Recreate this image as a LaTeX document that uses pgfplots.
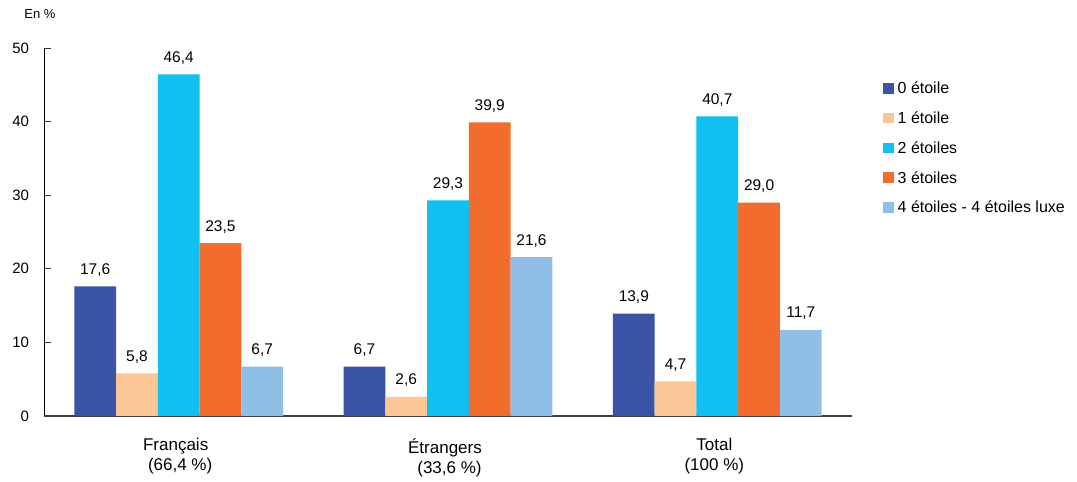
\documentclass[border=0pt]{standalone}
\usepackage{pgfplots}
\pgfplotsset{compat=1.18}
\usepackage{fontspec}
\setmainfont{Liberation Sans}
\definecolor{cA}{HTML}{3A53A4}
\definecolor{cB}{HTML}{FCC595}
\definecolor{cC}{HTML}{10C0F0}
\definecolor{cD}{HTML}{F26C2D}
\definecolor{cE}{HTML}{8FBFE6}
\begin{document}
\begin{tikzpicture}[x=1pt,y=1pt]
\path[use as bounding box] (0,0) rectangle (1077,482);
\begin{axis}[
  at={(44pt,66pt)}, anchor=south west,
  scale only axis, width=808pt, height=368pt,
  xmin=-0.5, xmax=2.5, ymin=0, ymax=50,
  axis x line=bottom, axis y line=left,
  axis line style={-},
  x axis line style={draw=black!75, line width=1.6pt},
  y axis line style={draw=black, line width=0.6pt},
  xtick={0,1,2}, xtick style={draw=none},
  xticklabels={{Français\\\hspace{9pt}(66,4~\%)},{Étrangers\\\hspace{9pt}(33,6~\%)},{Total\\(100~\%)}},
  xticklabel style={align=center, font=\fontsize{17}{20}\selectfont, yshift=-12pt, xshift=-3pt},
  ytick={0,10,20,30,40,50},
  tick align=inside, major tick length=7pt,
  ytick style={draw=black!80, line width=0.6pt},
  yticklabel style={font=\fontsize{15}{18}\selectfont, xshift=-11.5pt},
  /pgf/number format/assume math mode=true,
  ybar, bar width=0.155,
  nodes near coords,
  nodes near coords style={font=\fontsize{15.5}{18}\selectfont, anchor=base, yshift=12pt, /pgf/number format/fixed, /pgf/number format/fixed zerofill, /pgf/number format/precision=1, /pgf/number format/use comma, /pgf/number format/assume math mode=true},
  clip=false,
  legend style={at={(1.034,0.919)}, anchor=north west, draw=none, fill=none,
    font=\fontsize{16}{19}\selectfont, row sep=12.5pt},
  legend cell align=left,
  legend image code/.code={\fill[#1] (0pt,-5pt) rectangle (11.5pt,5.5pt); \path (0pt,0pt) -- (13pt,0pt);},
]
\addplot[fill=cA, draw=none, bar shift=-0.31] coordinates {(0,17.6) (1,6.7) (2,13.9)};
\addplot[fill=cB, draw=none, bar shift=-0.155] coordinates {(0,5.8) (1,2.6) (2,4.7)};
\addplot[fill=cC, draw=none, bar shift=0] coordinates {(0,46.4) (1,29.3) (2,40.7)};
\addplot[fill=cD, draw=none, bar shift=0.155] coordinates {(0,23.5) (1,39.9) (2,29.0)};
\addplot[fill=cE, draw=none, bar shift=0.31] coordinates {(0,6.7) (1,21.6) (2,11.7)};
\legend{0 étoile,1 étoile,2 étoiles,3 étoiles,4 étoiles - 4 étoiles luxe}
\node[font=\fontsize{13}{15}\selectfont, anchor=base] at (rel axis cs:-0.005,1.079) {En \%};
\end{axis}
\end{tikzpicture}
\end{document}
